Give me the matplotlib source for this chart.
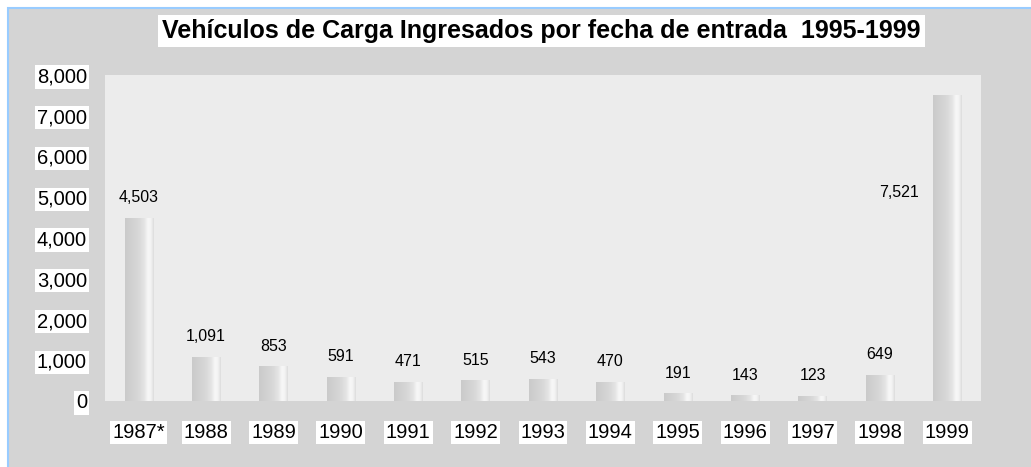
import matplotlib.pyplot as plt
import numpy as np
from matplotlib.patches import Rectangle
from matplotlib.ticker import FuncFormatter

plt.rcParams['font.family'] = ['Liberation Sans', 'DejaVu Sans']

years = ['1987*', '1988', '1989', '1990', '1991', '1992', '1993',
         '1994', '1995', '1996', '1997', '1998', '1999']
values = [4503, 1091, 853, 591, 471, 515, 543, 470, 191, 143, 123, 649, 7521]
title = 'Vehículos de Carga Ingresados por fecha de entrada  1995-1999'

W, H = 1031, 467
fig = plt.figure(figsize=(W / 100, H / 100), dpi=100, facecolor='white')

# grey chart frame with the light blue edge on top and left
fig.patches.append(Rectangle((8 / W, -0.1), 1.2, 1.1 - 8 / H, transform=fig.transFigure,
                             facecolor='#d4d4d4', edgecolor='#99ccff', linewidth=1.5, zorder=-5))

ax = fig.add_axes([105 / W, (H - 401) / H, (981 - 105) / W, (401 - 75) / H])
ax.set_zorder(2)
ax.set_facecolor('#ececec')
for s in ax.spines.values():
    s.set_visible(False)

x = np.arange(len(years))
bars = ax.bar(x, values, width=0.42, facecolor='none', edgecolor='none')

# cylinder-like shading
pos = np.linspace(0, 1, 200)
shade = np.interp(pos, [0, 0.5, 0.68, 0.8, 0.9, 1.0], [0.79, 0.85, 0.90, 0.97, 0.95, 0.86])
grad = np.tile(shade, (2, 1))
for b in bars:
    im = ax.imshow(grad, cmap='gray', vmin=0, vmax=1, aspect='auto',
                   extent=[b.get_x(), b.get_x() + b.get_width(), 0, b.get_height()],
                   interpolation='bilinear', zorder=2)
    im.set_clip_path(b)

for i, v in enumerate(values):
    lbl = f'{v:,}'
    if i == len(values) - 1:
        ax.text(i - 0.72, v * 0.68, lbl, ha='center', va='center', fontsize=11.5)
    else:
        ax.annotate(lbl, (i, v), xytext=(0, 9), textcoords='offset points',
                    ha='center', va='bottom', fontsize=11.5)

ax.set_xlim(-0.5, len(years) - 0.5)
ax.set_ylim(0, 8000)
ax.set_yticks(range(0, 8001, 1000))
ax.yaxis.set_major_formatter(FuncFormatter(lambda v, p: f'{int(v):,}'))
ax.set_xticks(x)
ax.set_xticklabels(years)
ax.tick_params(length=0, labelsize=14.5)
ax.tick_params(axis='y', pad=13)
ax.tick_params(axis='x', pad=16)
for t in ax.get_xticklabels() + ax.get_yticklabels():
    t.set_bbox(dict(facecolor='white', edgecolor='none', pad=1.5))

fig.text(541 / W, 1 - 31 / H, title, ha='center', va='center', fontsize=18,
         fontweight='bold', bbox=dict(facecolor='white', edgecolor='none', pad=3))

fig.savefig('out.png', dpi=100, facecolor=fig.get_facecolor())
